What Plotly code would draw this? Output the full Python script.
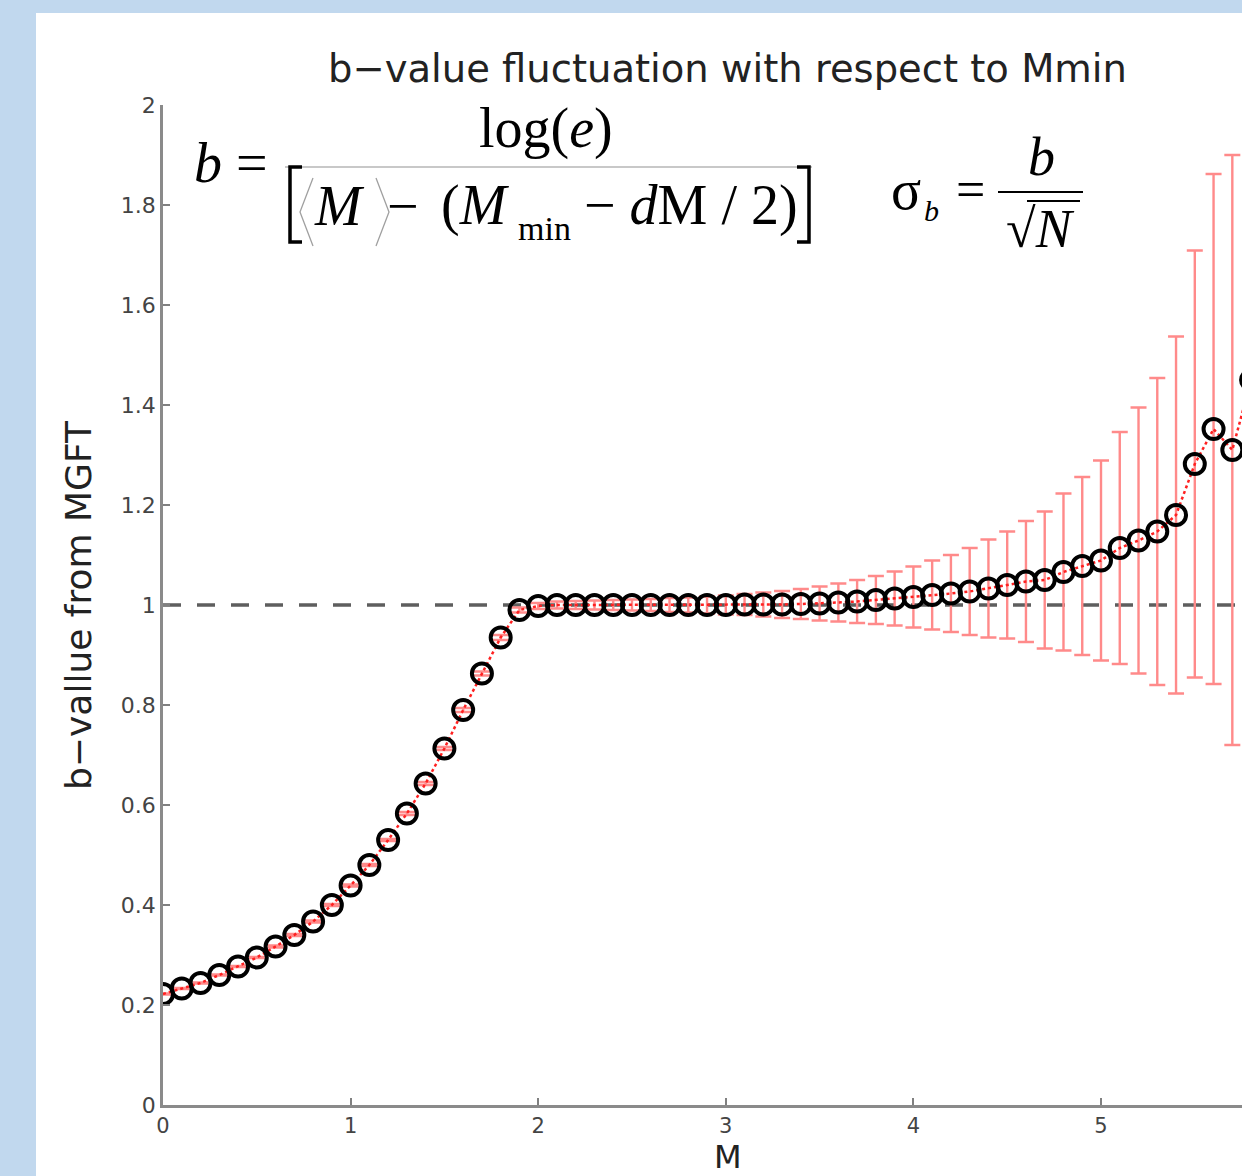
import plotly.graph_objects as go

# ---------------- data ----------------
M_values = [0.0, 0.1, 0.2, 0.3, 0.4, 0.5, 0.6, 0.7, 0.8, 0.9,
            1.0, 1.1, 1.2, 1.3, 1.4, 1.5, 1.6, 1.7, 1.8, 1.9,
            2.0, 2.1, 2.2, 2.3, 2.4, 2.5, 2.6, 2.7, 2.8, 2.9,
            3.0, 3.1, 3.2, 3.3, 3.4, 3.5, 3.6, 3.7, 3.8, 3.9,
            4.0, 4.1, 4.2, 4.3, 4.4, 4.5, 4.6, 4.7, 4.8, 4.9,
            5.0, 5.1, 5.2, 5.3, 5.4, 5.5, 5.6, 5.7, 5.8]

b_values = [0.222, 0.233, 0.244, 0.260, 0.277, 0.295, 0.317, 0.340, 0.367, 0.400,
            0.439, 0.480, 0.530, 0.583, 0.643, 0.713, 0.790, 0.863, 0.935, 0.990,
            0.998, 1.000, 1.000, 1.000, 1.000, 1.000, 1.000, 1.000, 1.000, 1.000,
            1.000, 1.001, 1.001, 1.001, 1.002, 1.003, 1.005, 1.007, 1.010, 1.013,
            1.016, 1.020, 1.023, 1.027, 1.033, 1.040, 1.047, 1.050, 1.066, 1.078,
            1.089, 1.114, 1.129, 1.147, 1.180, 1.282, 1.352, 1.310, 1.450]

sigma_b = [0.001, 0.001, 0.001, 0.001, 0.001, 0.001, 0.002, 0.002, 0.002, 0.002,
           0.002, 0.002, 0.002, 0.003, 0.003, 0.003, 0.004, 0.004, 0.005, 0.005,
           0.006, 0.007, 0.008, 0.009, 0.010, 0.011, 0.012, 0.014, 0.015, 0.017,
           0.019, 0.021, 0.024, 0.027, 0.030, 0.034, 0.038, 0.043, 0.048, 0.054,
           0.061, 0.069, 0.077, 0.087, 0.098, 0.107, 0.121, 0.137, 0.157, 0.178,
           0.200, 0.232, 0.266, 0.307, 0.357, 0.427, 0.510, 0.590, 0.700]

reference_b = [1.0, 1.0]
reference_M = [0.0, 6.0]

x_ticks = [0, 1, 2, 3, 4, 5]
y_ticks = [0, 0.2, 0.4, 0.6, 0.8, 1, 1.2, 1.4, 1.6, 1.8, 2]

title_text = "b\u2212value fluctuation with respect to Mmin"
x_title = "M"
y_title = "b\u2212vallue from MGFT"

# ---------------- layout geometry ----------------
W, H = 1242, 1176
L, R, T, B = 163, 0, 105, 71
PW, PH = W - L - R, H - T - B


def px(x):
    return (x - L) / PW


def py(y):
    return (H - B - y) / PH


SANS = "DejaVu Sans"
SERIF = "Liberation Serif"

fig = go.Figure()

# reference line b = 1
fig.add_trace(go.Scatter(
    x=reference_M, y=reference_b, mode="lines",
    line=dict(color="#5e5e5e", width=3.5, dash="18px,16px"),
    hoverinfo="skip", showlegend=False))

# red dotted line with error bars
fig.add_trace(go.Scatter(
    x=M_values, y=b_values, mode="lines",
    line=dict(color="#ff2020", width=2.5, dash="dot"),
    error_y=dict(type="data", array=sigma_b, visible=True,
                 color="#ff8a8a", thickness=2.4, width=8),
    showlegend=False))

# black open circles
fig.add_trace(go.Scatter(
    x=M_values, y=b_values, mode="markers",
    marker=dict(symbol="circle-open", size=20, color="black",
                line=dict(color="black", width=4)),
    showlegend=False))

shapes = []
# white slide panel
shapes.append(dict(type="rect", xref="paper", yref="paper", layer="below",
                   x0=px(36), x1=px(1300), y0=py(1230), y1=py(13),
                   fillcolor="white", line=dict(width=0)))


def path(points):
    s = "M " + " L ".join(f"{px(x):.5f},{py(y):.5f}" for x, y in points)
    return s


# fraction line of the b formula
shapes.append(dict(type="line", xref="paper", yref="paper",
                   x0=px(285), x1=px(812), y0=py(167), y1=py(167),
                   line=dict(color="#c8c8c8", width=2)))
# brackets
shapes.append(dict(type="path", xref="paper", yref="paper",
                   path=path([(302, 167), (290, 167), (290, 242), (302, 242)]),
                   line=dict(color="black", width=3.5)))
shapes.append(dict(type="path", xref="paper", yref="paper",
                   path=path([(797, 167), (809, 167), (809, 242), (797, 242)]),
                   line=dict(color="black", width=3.5)))
# angle brackets
shapes.append(dict(type="path", xref="paper", yref="paper",
                   path=path([(313, 178), (300, 212), (313, 246)]),
                   line=dict(color="#a0a0a0", width=1.3)))
shapes.append(dict(type="path", xref="paper", yref="paper",
                   path=path([(376, 178), (389, 212), (376, 246)]),
                   line=dict(color="#a0a0a0", width=1.3)))
# sigma fraction line
shapes.append(dict(type="line", xref="paper", yref="paper",
                   x0=px(998), x1=px(1083), y0=py(192), y1=py(192),
                   line=dict(color="black", width=2)))
# sqrt overline
shapes.append(dict(type="line", xref="paper", yref="paper",
                   x0=px(1027), x1=px(1080), y0=py(201), y1=py(201),
                   line=dict(color="black", width=1.8)))

annotations = []


def ann(text, x, y, size, family, color="black", xanchor="center", angle=0):
    annotations.append(dict(text=text, x=px(x), y=py(y), xref="paper", yref="paper",
                            xanchor=xanchor, yanchor="middle", showarrow=False,
                            textangle=angle,
                            font=dict(size=size, family=family, color=color)))


# titles
ann(title_text, 727, 68, 38.5, SANS, "#222222")
ann(x_title, 728, 1157, 32, SANS, "#222222")
ann(y_title, 78, 605, 36, SANS, "#222222", angle=-90)

# b formula
ann("<i>b</i> =", 231, 163, 56, SERIF)
ann("log(<i>e</i>)", 546, 128, 56, SERIF)
ann("<i>M</i>", 339, 206, 56, SERIF)
ann("\u2212", 403, 206, 56, SERIF)
ann("(<i>M</i>", 475, 206, 56, SERIF)
ann("min", 544, 228, 34, SERIF)
ann("\u2212 <i>d</i>M / 2)", 691, 206, 56, SERIF)

# sigma formula
ann("\u03c3", 906, 190, 56, SERIF)
ann("<i>b</i>", 931, 210, 30, SERIF)
ann("=", 970, 190, 52, SERIF)
ann("<i>b</i>", 1041, 157, 54, SERIF)
ann("\u221a<i>N</i>", 1040, 229, 54, SERIF)

fig.update_layout(
    width=W, height=H,
    margin=dict(l=L, r=R, t=T, b=B, pad=0),
    paper_bgcolor="#c1d8ee",
    plot_bgcolor="white",
    shapes=shapes,
    annotations=annotations,
    showlegend=False,
    xaxis=dict(range=[0, PW / 187.6], tickvals=x_ticks, ticks="inside", ticklen=7,
               tickwidth=2, tickcolor="#808080", showline=True, linecolor="#8a8a8a",
               linewidth=2.5, showgrid=False, zeroline=False,
               tickfont=dict(family=SANS, size=21, color="#444444")),
    yaxis=dict(range=[0, 2], tickvals=y_ticks, ticks="inside", ticklen=7,
               tickwidth=2, tickcolor="#808080", showline=True, linecolor="#8a8a8a",
               linewidth=2.5, showgrid=False, zeroline=False,
               tickfont=dict(family=SANS, size=22, color="#444444")),
)

fig.write_html("out.html")
